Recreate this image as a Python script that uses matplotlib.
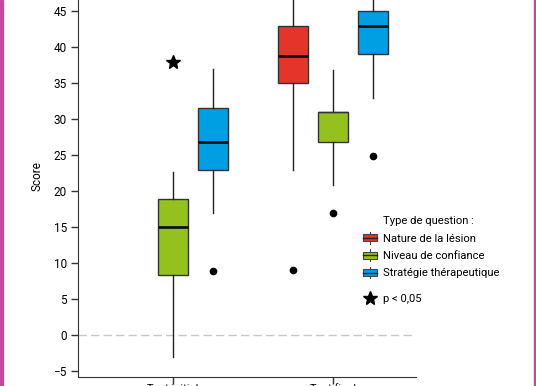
import matplotlib.pyplot as plt
from matplotlib.lines import Line2D
from matplotlib.patches import Patch, Rectangle
from matplotlib.legend_handler import HandlerBase

plt.rcParams['font.family'] = ['Roboto', 'DejaVu Sans']

groups = ['Test initial', 'Test final']
series = ['Nature de la lésion', 'Niveau de confiance', 'Stratégie thérapeutique']
colors = ['#e5352b', '#95c11f', '#009fe3']

# box stats per series, one value per group (None = no box in that group)
whislo = [[None, 23.0], [-3.0, 20.8], [16.9, 32.9]]
q1 = [[None, 35.0], [8.3, 26.8], [23.0, 39.0]]
med = [[None, 38.8], [15.0, 31.0], [26.8, 42.9]]
q3 = [[None, 43.0], [18.9, 31.0], [31.6, 45.0]]
whishi = [[None, 49.0], [22.7, 36.8], [37.0, 49.0]]
fliers = [[None, [9.0]], [[], [17.0]], [[8.9], [24.9]]]

# significance star (group, value)
star_group = 1
star_value = 38.0


class BoxHandler(HandlerBase):
    # little boxplot glyph for the legend
    def create_artists(self, legend, orig_handle, xdescent, ydescent, width, height,
                       fontsize, trans):
        x0, y0 = -xdescent, -ydescent
        fc = orig_handle.get_facecolor()
        box = Rectangle((x0, y0 + 0.1 * height), width, 0.8 * height,
                        facecolor=fc, edgecolor='#444444', lw=0.8, transform=trans)
        mid = Line2D([x0, x0 + width], [y0 + 0.5 * height] * 2, color='#222222',
                     lw=1, transform=trans)
        cx = x0 + width / 2
        top = Line2D([cx, cx], [y0 + 0.9 * height, y0 + 1.15 * height], color='#444444',
                     lw=0.8, transform=trans)
        bot = Line2D([cx, cx], [y0 - 0.15 * height, y0 + 0.1 * height], color='#444444',
                     lw=0.8, transform=trans)
        return [box, mid, top, bot]


fig = plt.figure(figsize=(5.36, 3.86), dpi=100)
ax = fig.add_axes([78 / 536, 9 / 386, 338 / 536, 401 / 386])

offsets = [-0.25, 0.0, 0.25]
for s in range(3):
    for g in range(2):
        if q1[s][g] is None:
            continue
        st = dict(whislo=whislo[s][g], q1=q1[s][g], med=med[s][g],
                  q3=q3[s][g], whishi=whishi[s][g], fliers=fliers[s][g])
        # median drawn thin when it sits on the box edge
        mlw = 2 if q1[s][g] < med[s][g] < q3[s][g] else 1
        ax.bxp([st], positions=[g + 1 + offsets[s]], widths=0.185, patch_artist=True,
               showcaps=False,
               boxprops=dict(facecolor=colors[s], edgecolor='#333333', linewidth=1),
               medianprops=dict(color='#111111' if mlw == 2 else '#333333', linewidth=mlw),
               whiskerprops=dict(color='#222222', linewidth=1),
               flierprops=dict(marker='o', markerfacecolor='black', markeredgecolor='black',
                               markersize=4.5))

ax.plot([star_group], [star_value], marker='*', color='black', markersize=10, linestyle='none')
ax.axhline(0, color='#c8c8c8', linestyle=(0, (6, 3)), linewidth=1, zorder=0)

ax.set_xlim(0.406, 2.52)
ax.set_ylim(-5.83, 49.9)
ax.set_xticks([1, 2])
ax.set_xticklabels(groups, fontsize=8)
ax.set_yticks(range(-5, 50, 5))
ax.tick_params(axis='y', labelsize=8.5, length=5, width=1, color='#333333', pad=3)
ax.tick_params(axis='x', length=5, width=1, color='#333333', pad=0)
ax.set_ylabel('Score', fontsize=8.5, labelpad=7)
for side in ['top', 'right']:
    ax.spines[side].set_visible(False)
ax.spines['left'].set_color('#333333')
ax.spines['bottom'].set_color('#333333')

# legend: title row + box glyphs
handles = [Line2D([], [], alpha=0)]
labels = ['Type de question :']
for s in range(3):
    handles.append(Patch(facecolor=colors[s]))
    labels.append(series[s])
leg = ax.legend(handles, labels, handler_map={Patch: BoxHandler()},
                loc='upper left', bbox_to_anchor=(363 / 536, 1 - 216 / 386),
                bbox_transform=fig.transFigure, frameon=False, fontsize=8.1,
                handlelength=1.2, handleheight=0.85, handletextpad=0.55, labelspacing=0.62,
                borderaxespad=0, borderpad=0)
ax.add_artist(leg)
ax.legend([Line2D([], [], marker='*', color='black', markersize=10, linestyle='none')],
          ['p < 0,05'], loc='upper left', bbox_to_anchor=(363 / 536, 1 - 294 / 386),
          bbox_transform=fig.transFigure, frameon=False, fontsize=8.1,
          handlelength=1.2, handletextpad=0.55, borderaxespad=0, borderpad=0)

# magenta side borders
fig.add_artist(Rectangle((0, 0), 2.5 / 536, 1, transform=fig.transFigure, color='#c9449f'))
fig.add_artist(Rectangle((1 - 2 / 536, 0), 2 / 536, 1, transform=fig.transFigure, color='#c9449f'))

fig.savefig('out.png', dpi=100)
